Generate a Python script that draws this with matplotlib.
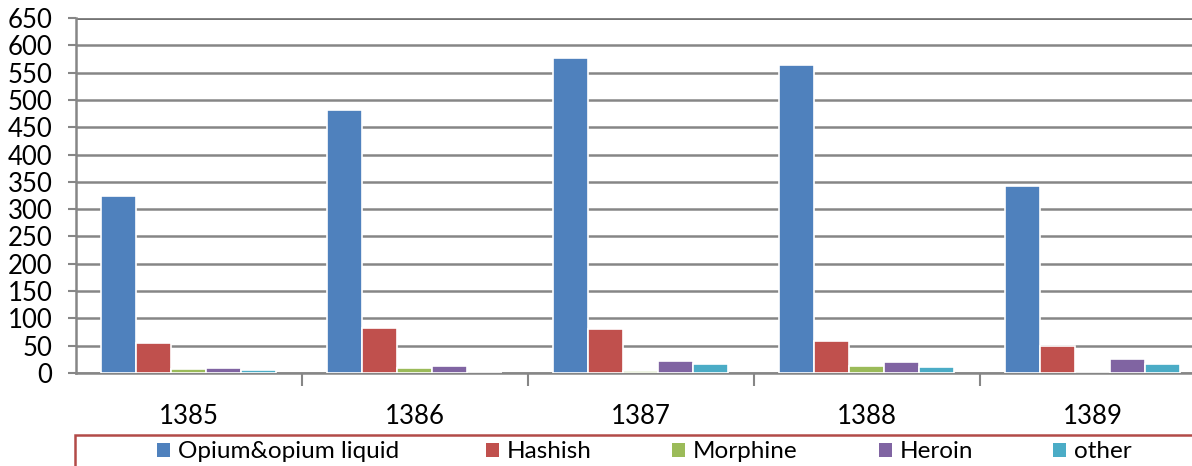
import numpy as np
import matplotlib.pyplot as plt
from matplotlib.patches import Patch, Rectangle

plt.rcParams['font.family'] = ['Lato', 'DejaVu Sans']

# --- data ---
years = ['1385', '1386', '1387', '1388', '1389']
series = ['Opium&opium liquid', 'Hashish', 'Morphine', 'Heroin', 'other']
opium = [325, 482, 577, 564, 342]
hashish = [55, 83, 80, 58, 50]
morphine = [7, 9, 4, 13, 0]
heroin = [9, 13, 22, 20, 25]
other = [6, 0, 17, 11, 16]
values = [opium, hashish, morphine, heroin, other]
colors = ['#4F81BD', '#C0504D', '#9BBB59', '#8064A2', '#4BACC6']

fig = plt.figure(figsize=(11.92, 4.66), dpi=100)
ax = fig.add_axes([76 / 1192, 1 - 373 / 466, 1 - 76 / 1192, (373 - 18) / 466])

x = np.arange(len(years))
bw = 0.155
for i, (vals, c) in enumerate(zip(values, colors)):
    ax.bar(x + (i - 2) * bw, vals, width=bw, color=c, edgecolor='white',
           linewidth=1.2, zorder=3)

ax.set_xlim(-0.5, 4.44)
ax.set_ylim(0, 650)
ax.set_yticks(np.arange(0, 651, 50))
ax.yaxis.grid(True, color='#868686', linewidth=1.8, zorder=0)
ax.axhline(650, color='black', linewidth=1.8, zorder=1)

# category labels on minor ticks, separator ticks on major
ax.set_xticks(x[:-1] + 0.5)
ax.set_xticklabels([])
ax.set_xticks(x, minor=True)
ax.set_xticklabels(years, minor=True)
ax.tick_params(axis='x', which='major', length=9, width=1.5, color='#868686', direction='out')
ax.tick_params(axis='x', which='minor', length=0, pad=22, labelsize=18.5)
ax.tick_params(axis='y', length=6, width=1.5, color='#868686', pad=11, labelsize=18.5)

for s in ['top', 'right']:
    ax.spines[s].set_visible(False)
ax.spines['left'].set_color('#868686')
ax.spines['left'].set_linewidth(1.8)
ax.spines['bottom'].set_color('#868686')
ax.spines['bottom'].set_linewidth(1.8)

# legend box (cut off at right and bottom as in the original)
fig.patches.append(Rectangle((75 / 1192, -0.05), 1.0, 1 - 435 / 466 + 0.05,
                             transform=fig.transFigure, fill=False,
                             edgecolor='#B24A48', linewidth=1.8))
leg_x = [157, 486, 672, 879, 1053]
for name, c, px in zip(series, colors, leg_x):
    fig.legend(handles=[Patch(facecolor=c, edgecolor='none')], labels=[name],
               loc='center left', bbox_to_anchor=(px / 1192, 1 - 452 / 466),
               frameon=False, fontsize=17.5, handlelength=0.53, handleheight=0.53,
               handletextpad=0.33, borderpad=0, borderaxespad=0)

fig.savefig('out.png', dpi=100)
